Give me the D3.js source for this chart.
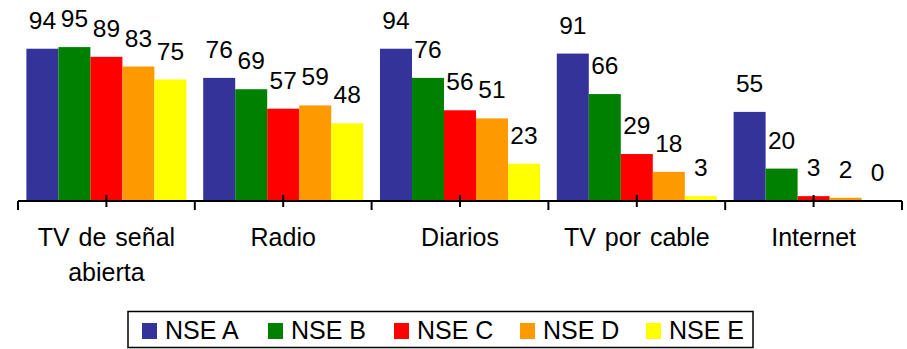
<!DOCTYPE html>
<html>
<head>
<meta charset="utf-8">
<script src="https://cdn.jsdelivr.net/npm/d3@7"></script>
<style>
  html, body { margin: 0; padding: 0; background: #fff; }
  svg { display: block; font-family: "Liberation Sans", Arial, sans-serif; }
</style>
</head>
<body>
<svg id="chart" width="907" height="349"></svg>
<script>
const categories = ["TV de señal\nabierta", "Radio", "Diarios", "TV por cable", "Internet"];
const seriesNames = ["NSE A", "NSE B", "NSE C", "NSE D", "NSE E"];
const nseA = [94, 76, 94, 91, 55];
const nseB = [95, 69, 76, 66, 20];
const nseC = [89, 57, 56, 29, 3];
const nseD = [83, 59, 51, 18, 2];
const nseE = [75, 48, 23, 3, 0];
const seriesValues = [nseA, nseB, nseC, nseD, nseE];
const colors = ["#333399", "#008000", "#FF0000", "#FF9900", "#FFFF00"];

const svg = d3.select("#chart");
const baseY = 201;
const x0 = d3.scaleBand().domain(categories).range([18, 902]).padding(0);
const inner = 8.4;
const x1 = d3.scaleBand().domain(seriesNames).range([inner, x0.bandwidth() - inner]).padding(0);
const y = d3.scaleLinear().domain([0, 100]).range([baseY, 39]);
const color = d3.scaleOrdinal().domain(seriesNames).range(colors);

const rows = [];
categories.forEach((c, ci) => {
  seriesNames.forEach((s, si) => rows.push({ cat: c, ser: s, v: seriesValues[si][ci] }));
});

// bars
svg.append("g").selectAll("rect").data(rows).join("rect")
  .attr("x", d => x0(d.cat) + x1(d.ser))
  .attr("y", d => y(d.v))
  .attr("width", x1.bandwidth())
  .attr("height", d => baseY - y(d.v))
  .attr("fill", d => color(d.ser));

// value labels
svg.append("g").selectAll("text").data(rows).join("text")
  .attr("x", d => x0(d.cat) + x1(d.ser) + x1.bandwidth() / 2)
  .attr("y", d => y(d.v) - 20)
  .attr("text-anchor", "middle")
  .attr("font-size", 24.5)
  .attr("fill", "#000")
  .text(d => d.v);

// axis with crossing ticks at centers
const axisG = svg.append("g").attr("transform", `translate(0,${baseY})`)
  .call(d3.axisBottom(x0).tickSizeInner(6).tickSizeOuter(0).tickFormat(""));
axisG.select(".domain").attr("stroke", "#000").attr("stroke-width", 2).attr("d", `M${x0.range()[0]},0H${x0.range()[1]}`);
axisG.selectAll(".tick line").attr("y1", -6).attr("y2", 6).attr("stroke", "#000").attr("stroke-width", 2);

// boundary ticks
const bounds = categories.map(c => x0(c)).concat([x0(categories[categories.length - 1]) + x0.bandwidth()]);
svg.append("g").selectAll("line").data(bounds).join("line")
  .attr("x1", d => d).attr("x2", d => d)
  .attr("y1", baseY).attr("y2", baseY + 9)
  .attr("stroke", "#000").attr("stroke-width", 2);

// category labels
const catG = svg.append("g").selectAll("text").data(categories).join("text")
  .attr("x", d => x0(d) + x0.bandwidth() / 2)
  .attr("y", 246)
  .attr("text-anchor", "middle")
  .attr("font-size", 25)
  .attr("word-spacing", 2)
  .attr("fill", "#000");
catG.each(function(d) {
  const t = d3.select(this);
  d.split("\n").forEach((line, i) => {
    t.append("tspan").attr("x", x0(d) + x0.bandwidth() / 2).attr("dy", i === 0 ? 0 : 35).text(line);
  });
});

// legend
const legend = svg.append("g");
legend.append("rect")
  .attr("x", 128).attr("y", 311.5).attr("width", 625).attr("height", 36)
  .attr("fill", "#fff").attr("stroke", "#000").attr("stroke-width", 1.5);
const legendX = d3.scalePoint().domain(seriesNames).range([142, 646]);
const items = legend.selectAll("g.item").data(seriesNames).join("g")
  .attr("class", "item")
  .attr("transform", d => `translate(${legendX(d)},0)`);
items.append("rect").attr("x", 0).attr("y", 323).attr("width", 15).attr("height", 16)
  .attr("fill", d => color(d));
items.append("text").attr("x", 23).attr("y", 339)
  .attr("font-size", 25).attr("fill", "#000").text(d => d);
</script>
</body>
</html>
